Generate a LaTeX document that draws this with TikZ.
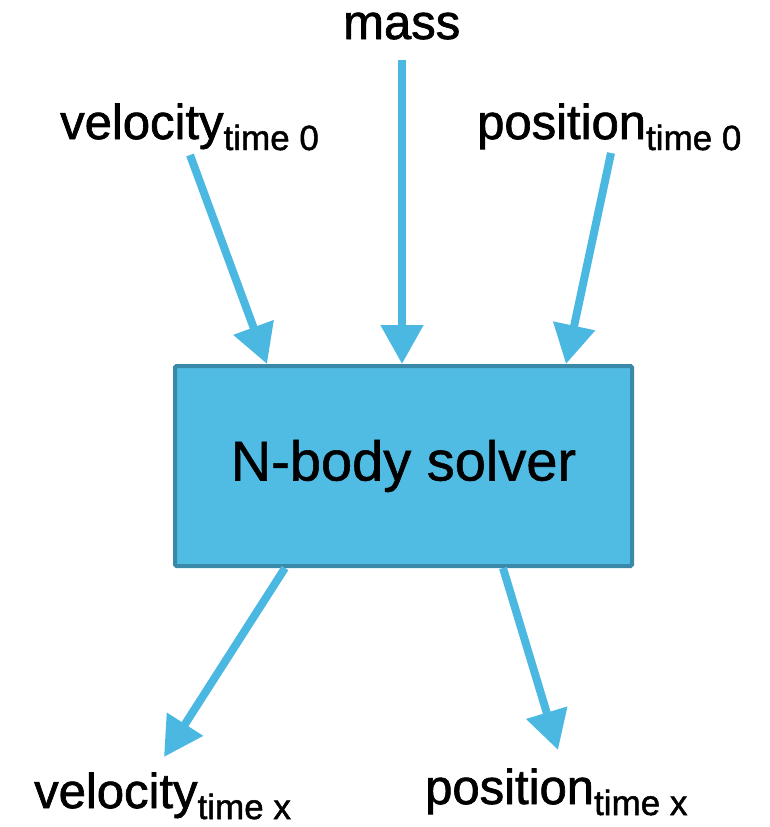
\documentclass[tikz,border=0pt]{standalone}
\usepackage{fontspec}
\setmainfont{Liberation Sans}
\newfontfamily\medfont{Liberation Sans}[FakeBold=1.4]
\newfontfamily\boxfont{Liberation Sans}[FakeBold=1.0]
\usetikzlibrary{arrows.meta,calc}
\definecolor{arrowblue}{HTML}{4BB8E1}
\definecolor{boxfill}{HTML}{50BBE3}
\definecolor{boxedge}{HTML}{3A89A8}
\tikzset{
  flow/.style={draw=arrowblue, line width=8pt, -{Triangle[length=39pt,width=41pt]}},
  lbl/.style={anchor=base west, inner sep=0pt, font=\medfont\fontsize{49}{52}\selectfont},
  solverbox/.style={draw=boxedge, fill=boxfill, line width=4pt, rounded corners=1.5pt,
    minimum width=457pt, minimum height=200pt, inner sep=0pt,
    font=\boxfont\fontsize{56}{60}\selectfont}
}
\newcommand{\subtxt}[1]{\raisebox{-11pt}{\fontsize{35}{37}\selectfont #1}}
\begin{document}
\begin{tikzpicture}[x=1pt,y=-1pt]
\useasboundingbox (0,0) rectangle (769,827);
\node[solverbox] (box) at (403.5,466) {N-body solver};
\node[lbl] (mass) at (343,39) {mass};
\node[lbl] (v0) at (60,139) {velocity\subtxt{time 0}};
\node[lbl] (p0) at (477,139) {position\subtxt{time 0}};
\node[lbl] (vx) at (34,808) {velocity\subtxt{time x}};
\node[lbl] (px) at (425,804) {position\subtxt{time x}};
\coordinate (ms) at (402,60);
\coordinate (me) at (402,364);
\coordinate (vs) at (190,155);
\coordinate (ve) at (267,364);
\coordinate (ps) at (611,153);
\coordinate (pe) at (566,364);
\coordinate (vxs) at (285,568);
\coordinate (vxe) at (164,757);
\coordinate (pxs) at (503,568);
\coordinate (pxe) at (558,750);
\draw[flow] (ms) -- (me);
\draw[flow] (vs) -- (ve);
\draw[flow] (ps) -- (pe);
\draw[flow] (vxs) -- (vxe);
\draw[flow] (pxs) -- (pxe);
\end{tikzpicture}
\end{document}
